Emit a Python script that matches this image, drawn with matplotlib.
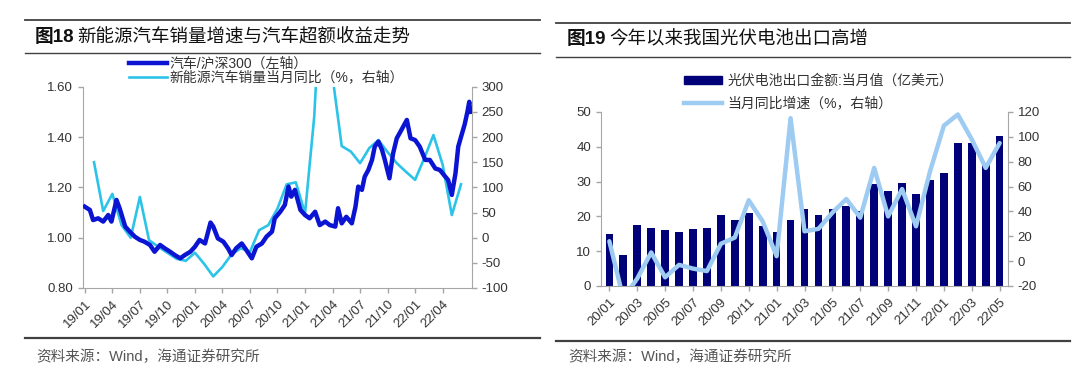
import numpy as np
import matplotlib
matplotlib.use('Agg')
import matplotlib.pyplot as plt
from matplotlib.lines import Line2D
from matplotlib.patches import Patch

plt.rcParams['font.family'] = ['Liberation Sans', 'Noto Sans CJK SC', 'DejaVu Sans']
plt.rcParams['axes.unicode_minus'] = False

# ---------------- data: left panel (months since 2019-01) ----------------
rel_m = [0.0, 0.55, 0.9, 1.45, 2.0, 2.55, 2.9, 3.45, 3.8, 4.4, 4.9, 5.45, 6.0, 6.5,
         7.1, 7.6, 8.2, 8.7, 9.3, 9.8, 10.4, 10.9, 11.5, 12.0, 12.5, 13.1, 13.7,
         14.0, 14.5, 15.1, 15.6, 16.0, 16.5, 17.1, 17.6, 18.2, 18.7, 19.3, 19.8,
         20.4, 20.7, 21.3, 21.8, 22.2, 22.5, 22.9, 23.5, 24.0, 24.5, 25.1, 25.6,
         26.2, 26.7, 27.3, 27.6, 28.0, 28.5, 29.1, 29.5, 29.8, 30.2, 30.5, 30.9,
         31.3, 31.6, 32.0, 32.4, 32.7, 33.2, 33.6, 34.0, 34.5, 35.1, 35.5, 36.0,
         36.5, 37.1, 37.6, 38.2, 38.7, 39.3, 39.6, 40.0, 40.4, 40.7, 41.0, 41.4,
         41.7, 41.9, 42.0]
rel_v = [1.123, 1.110, 1.070, 1.077, 1.064, 1.090, 1.064, 1.150, 1.116, 1.044, 1.024,
         1.004, 0.991, 0.984, 0.971, 0.944, 0.971, 0.958, 0.944, 0.931, 0.918, 0.931,
         0.944, 0.964, 0.991, 0.977, 1.060, 1.044, 0.997, 0.984, 0.958, 0.931, 0.958,
         0.977, 0.951, 0.918, 0.964, 0.977, 1.004, 1.024, 1.077, 1.103, 1.130, 1.203,
         1.163, 1.190, 1.110, 1.090, 1.077, 1.103, 1.050, 1.064, 1.050, 1.044, 1.117,
         1.057, 1.083, 1.057, 1.123, 1.203, 1.190, 1.242, 1.269, 1.309, 1.362, 1.382,
         1.348, 1.309, 1.236, 1.335, 1.395, 1.428, 1.468, 1.395, 1.388, 1.362, 1.309,
         1.309, 1.275, 1.269, 1.242, 1.229, 1.170, 1.256, 1.362, 1.400, 1.450, 1.500,
         1.540, 1.500]

# NEV monthly yoy (%), plotted at month end: 2019/01 .. 2022/05
nev_m = list(range(1, 42))
nev_yoy = [150, 53, 87, 25, 0, 81, -5, -18, -30, -42, -46, -30, -52, -77, -58, -33,
           -21, -28, 15, 25, 58, 106, 110, 48, 240, 580, 320, 182, 171, 148, 178, 194,
           170, 148, 131, 115, 158, 204, 145, 45, 106]

left_ticks = ['19/01', '19/04', '19/07', '19/10', '20/01', '20/04', '20/07', '20/10',
              '21/01', '21/04', '21/07', '21/10', '22/01', '22/04']

# ---------------- data: right panel ----------------
pv_months = ['20/01', '20/02', '20/03', '20/04', '20/05', '20/06', '20/07', '20/08',
             '20/09', '20/10', '20/11', '20/12', '21/01', '21/02', '21/03', '21/04',
             '21/05', '21/06', '21/07', '21/08', '21/09', '21/10', '21/11', '21/12',
             '22/01', '22/02', '22/03', '22/04', '22/05']
pv_export = [14.8, 8.9, 17.6, 16.6, 16.2, 15.5, 16.4, 16.8, 20.3, 19.0, 20.9, 17.3,
             15.6, 19.0, 22.1, 20.4, 22.1, 23.0, 21.6, 29.2, 27.2, 29.6, 26.3, 30.6,
             32.6, 41.0, 41.1, 35.3, 43.0]
pv_yoy = [16, -30, -14, 7, -13, -3, -6, -8, 14, 19, 49, 32, 4, 115, 24, 26, 39, 50,
          35, 75, 36, 58, 28, 72, 109, 118, 98, 75, 95]

W, H = 1080, 380
fig = plt.figure(figsize=(W / 100, H / 100), dpi=100)

def fx(px): return px / W
def fy(py): return 1 - py / H

GRAY = '#A6A6A6'
TXT = '#333333'

def style(ax, axr):
    for a in (ax, axr):
        for s in a.spines.values():
            s.set_color(GRAY)
        a.spines['top'].set_visible(False)
        a.tick_params(colors=GRAY, labelcolor=TXT, labelsize=9.5, length=3.5, width=1)
    ax.spines['right'].set_visible(False)
    axr.spines['left'].set_visible(False)
    axr.spines['bottom'].set_visible(False)

# ---------------- left panel ----------------
axA = fig.add_axes([fx(83), fy(288), fx(472 - 83), (288 - 86.7) / H])
axA2 = axA.twinx()
axA.plot(rel_m, rel_v, color='#0A14D2', lw=3.2, solid_joinstyle='round', zorder=3)
axA2.plot(nev_m, nev_yoy, color='#2CC3E8', lw=1.9, solid_joinstyle='round')
axA.set_zorder(axA2.get_zorder() + 1)
axA.patch.set_visible(False)
axA.set_xlim(-0.2, 42.2)
axA.set_ylim(0.80, 1.60)
axA.set_yticks(np.arange(0.80, 1.61, 0.20))
axA.yaxis.set_major_formatter('{x:.2f}')
axA2.set_ylim(-100, 300)
axA2.set_yticks(range(-100, 301, 50))
axA.set_xticks(range(0, 40, 3))
axA.set_xticklabels(left_ticks, rotation=45, ha='right', rotation_mode='anchor', fontsize=8.8)
style(axA, axA2)

legA = axA.legend([Line2D([], [], color='#0A14D2', lw=3.2), Line2D([], [], color='#2CC3E8', lw=1.9)],
                  ['汽车/沪深300（左轴）', '新能源汽车销量当月同比（%，右轴）'],
                  loc='center left', bbox_to_anchor=(fx(129), fy(70.5)), bbox_transform=fig.transFigure,
                  frameon=False, fontsize=10, handlelength=2.7, handletextpad=0.2,
                  labelspacing=0.0, borderpad=0, borderaxespad=0)
for t in legA.get_texts():
    t.set_color(TXT)

# ---------------- right panel ----------------
axB = fig.add_axes([fx(601), fy(286), fx(1008 - 601), (286 - 112) / H])
axB2 = axB.twinx()
xb = np.arange(len(pv_months))
axB.bar(xb, pv_export, width=0.55, color='#000078', zorder=2)
axB2.plot(xb, pv_yoy, color='#9DCBF2', lw=3.2, solid_joinstyle='round', solid_capstyle='round')
axB.set_xlim(-0.6, len(pv_months) - 0.4)
axB.set_ylim(0, 50)
axB.set_yticks(range(0, 51, 10))
axB2.set_ylim(-20, 120)
axB2.set_yticks(range(-20, 121, 20))
axB.set_xticks(xb[::2])
axB.set_xticklabels(pv_months[::2], rotation=45, ha='right', rotation_mode='anchor', fontsize=8.8)
style(axB, axB2)

legB = axB.legend([Patch(color='#000078'), Line2D([], [], color='#9DCBF2', lw=3.2)],
                  ['光伏电池出口金额:当月值（亿美元）', '当月同比增速（%，右轴）'],
                  loc='center left', bbox_to_anchor=(fx(684), fy(92)), bbox_transform=fig.transFigure,
                  frameon=False, fontsize=10, handlelength=2.7, handleheight=0.5, handletextpad=0.4,
                  labelspacing=0.6, borderpad=0, borderaxespad=0)
for t in legB.get_texts():
    t.set_color(TXT)

# ---------------- frame lines, titles, source ----------------
def hline(x0, x1, y, lw):
    fig.add_artist(Line2D([fx(x0), fx(x1)], [fy(y), fy(y)], transform=fig.transFigure,
                          color='#404040', lw=lw))

hline(25, 540, 20, 1.3)
hline(25, 540, 53, 1.0)
hline(25, 540, 338, 1.6)
hline(556, 1070, 23, 1.3)
hline(556, 1070, 57, 1.0)
hline(556, 1070, 341, 1.6)

fig.canvas.draw()
rend = fig.canvas.get_renderer()

def title(x, y, num, rest):
    t1 = fig.text(fx(x), fy(y), num, fontsize=13.5, fontweight='bold', color='#111111', va='center')
    bb = t1.get_window_extent(rend)
    fig.text(bb.x1 / W + fx(3), fy(y), rest, fontsize=13.3, color='#111111', va='center')

title(35, 37, '图18', '新能源汽车销量增速与汽车超额收益走势')
title(567, 40, '图19', '今年以来我国光伏电池出口高增')

fig.text(fx(36), fy(357), '资料来源：Wind，海通证券研究所', fontsize=10.5, color='#555555', va='center')
fig.text(fx(568), fy(357), '资料来源：Wind，海通证券研究所', fontsize=10.5, color='#555555', va='center')

fig.savefig('out.png', dpi=100)
